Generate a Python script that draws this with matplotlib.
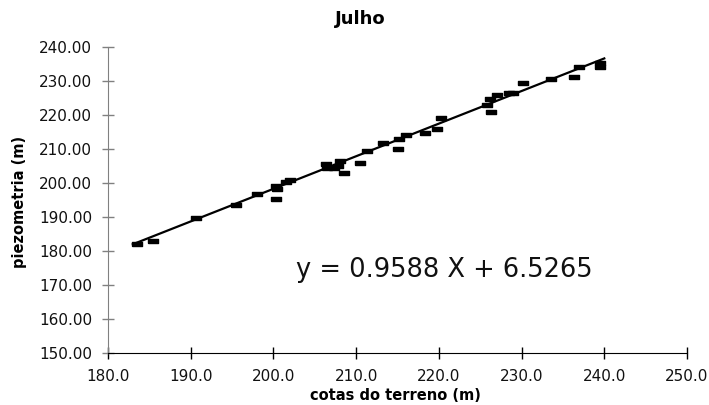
import matplotlib
matplotlib.use("Agg")
import matplotlib.pyplot as plt
import numpy as np

plt.rcParams['font.family'] = ['DejaVu Sans']

cotas = [183.5, 185.5, 190.6, 195.5, 198.0, 200.3, 200.4, 200.3, 201.5, 202.0,
         206.3, 206.5, 207.3, 207.8, 208.0, 208.5, 210.5, 211.3, 213.2, 215.0,
         215.2, 216.0, 218.3, 219.8, 220.3, 225.8, 226.2, 226.3, 227.0, 228.5,
         229.0, 230.2, 233.5, 236.3, 237.0, 239.5, 239.5]
piezo = [182.2, 182.8, 189.8, 193.5, 196.7, 199.0, 198.2, 195.3, 200.2, 200.8,
         205.7, 204.4, 204.4, 205.0, 206.5, 202.8, 206.0, 209.4, 211.9, 210.0,
         212.8, 214.0, 214.6, 216.0, 219.0, 222.8, 224.8, 221.0, 226.0, 226.5,
         226.5, 229.5, 230.5, 231.2, 234.2, 235.2, 234.0]
slope, intercept = 0.9588, 6.5265
fit_x = [183.0, 240.0]
xticks = [180, 190, 200, 210, 220, 230, 240, 250]
yticks = [150, 160, 170, 180, 190, 200, 210, 220, 230, 240]

W, H = 709, 405
fig = plt.figure(figsize=(W/100, H/100), dpi=100)
ax = fig.add_axes([108/W, 1-353/H, (687-108)/W, (353-47)/H])

fx = np.array(fit_x)
ax.plot(fx, slope*fx + intercept, color='black', lw=1.6, zorder=2)
rect = [(-1, -0.42), (1, -0.42), (1, 0.42), (-1, 0.42), (-1, -0.42)]
ax.plot(cotas, piezo, linestyle='none', marker=rect, markersize=7,
        color='black', zorder=3)

ax.set_xlim(180, 250)
ax.set_ylim(150, 240)
ax.set_xticks(xticks)
ax.set_xticklabels([f"{v:.1f}" for v in xticks])
ax.set_yticks(yticks)
ax.set_yticklabels([f"{v:.2f}" for v in yticks])
for s in ['top', 'right']:
    ax.spines[s].set_visible(False)
ax.spines['left'].set_color('#808080')
ax.spines['bottom'].set_color('black')
ax.tick_params(axis='y', direction='inout', length=9, width=1, colors='#808080',
               labelcolor='#111111', labelsize=11, pad=7)
ax.tick_params(axis='x', direction='inout', length=9, width=1, color='black',
               labelcolor='#111111', labelsize=11, pad=7)

fig.text(360/W, 1-19/H, 'Julho', fontsize=13, fontweight='bold',
         ha='center', va='center')
fig.text(395/W, 1-396/H, 'cotas do terreno (m)', fontsize=10.5, fontweight='bold',
         ha='center', va='center')
fig.text(20/W, 1-202/H, 'piezometria (m)', fontsize=10.5, fontweight='bold',
         ha='center', va='center', rotation=90)

ax.text(220.7, 174.4, 'y = 0.9588 X + 6.5265', fontsize=18.5, ha='center', va='center',
        color='#111111')

fig.savefig('out.png', dpi=100)
